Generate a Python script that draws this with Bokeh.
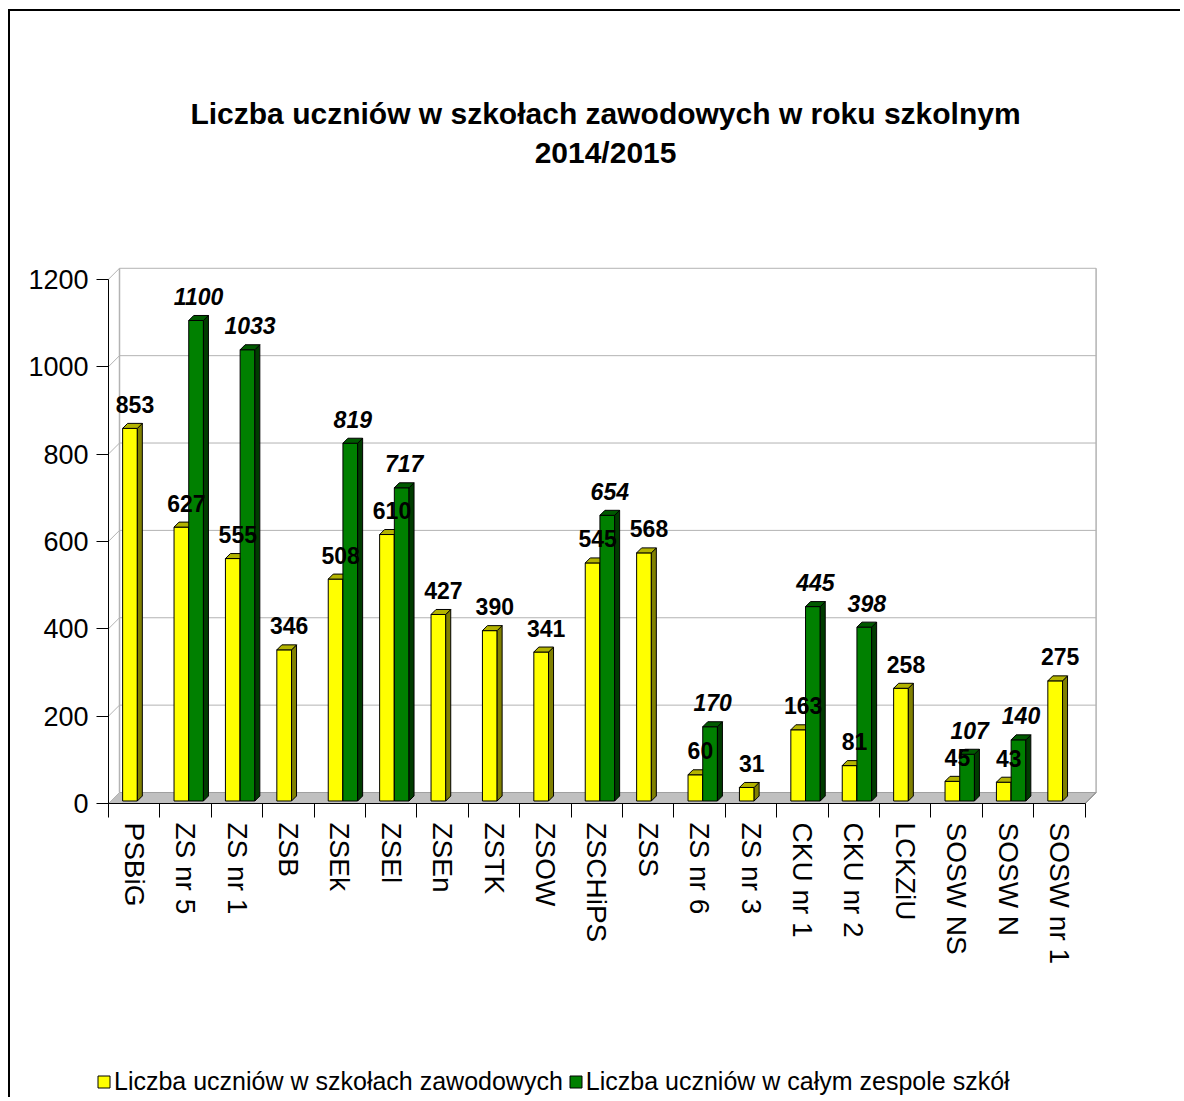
import numpy as np
from bokeh.plotting import figure
from bokeh.models import Range1d, FixedTicker, Legend, LegendItem, ColumnDataSource
from bokeh.core.properties import value
from bokeh.embed import file_html
from bokeh.resources import INLINE

# ---------------- data ----------------
categories = ["PSBiG", "ZS nr 5", "ZS nr 1", "ZSB", "ZSEk", "ZSEl", "ZSEn", "ZSTK", "ZSOW",
              "ZSCHiPS", "ZSS", "ZS nr 6", "ZS nr 3", "CKU nr 1", "CKU nr 2", "LCKZiU",
              "SOSW NS", "SOSW N", "SOSW nr 1"]
vocational = [853, 627, 555, 346, 508, 610, 427, 390, 341, 545, 568, 60, 31, 163, 81, 258, 45, 43, 275]
whole_complex = [None, 1100, 1033, None, 819, 717, None, None, None, 654, None, 170, None, 445, 398,
                 None, 107, 140, None]
y_ticks = [0, 200, 400, 600, 800, 1000, 1200]
series_names = ["Liczba uczniów w szkołach zawodowych", "Liczba uczniów w całym zespole szkół"]
title_lines = ["Liczba uczniów w szkołach zawodowych w roku szkolnym", "2014/2015"]

# ---------------- layout / geometry ----------------
W, H = 1172, 1088                 # canvas size
ORIGIN_X, ORIGIN_Y = 98, 296      # pixel position of the axes origin (from left / from bottom)
PX_PER_CAT = 51.40
PX_PER_VAL = 536 / 1227.0
N = len(categories)
X0 = -ORIGIN_X / PX_PER_CAT
X1 = X0 + W / PX_PER_CAT
Y0 = -ORIGIN_Y / PX_PER_VAL
Y1 = Y0 + H / PX_PER_VAL

WALL_DX = 11 / PX_PER_CAT
WALL_DY = 11 / PX_PER_VAL
BAR_DX = 5 / PX_PER_CAT
BAR_DY = 5 / PX_PER_VAL
SHIFT_Y = 2.5 / PX_PER_VAL
BAR_W = 0.286
Y_LEFT = 0.275
G_LEFT = Y_LEFT + BAR_W
TITLE_PX = [690, 651]             # title baselines, pixels above the floor line
TITLE_X = 9.67

FONT = "Liberation Sans"

p = figure(width=W, height=H, output_backend="svg", toolbar_location=None,
           x_range=Range1d(X0, X1), y_range=Range1d(Y0, Y1),
           min_border_left=0, min_border_right=0, min_border_top=0, min_border_bottom=0,
           background_fill_color="white", border_fill_color="white")
p.outline_line_color = None
p.xgrid.visible = False
p.ygrid.visible = False
p.margin = (9, 0, 0, 8)
p.styles = {"border-top": "2px solid black", "border-left": "2px solid black"}

# title (two centred lines)
p.text(x=[TITLE_X, TITLE_X], y=[px / PX_PER_VAL for px in TITLE_PX], text=title_lines,
       text_align="center", text_baseline="alphabetic", text_font=value(FONT),
       text_font_size="30px", text_font_style="bold", text_color="black")

# ---------------- walls ----------------
wall_col = "#b3b3b3"
top_val = y_ticks[-1]
p.patch(x=[0, N, N + WALL_DX, WALL_DX], y=[0, 0, WALL_DY, WALL_DY],
        fill_color="#c0c0c0", line_color="#a0a0a0", line_width=1)
gy = [v + WALL_DY for v in y_ticks[1:]]
p.segment(x0=[WALL_DX] * len(gy), y0=gy, x1=[N + WALL_DX] * len(gy), y1=gy,
          line_color=wall_col, line_width=1)
p.segment(x0=[0] * len(y_ticks), y0=y_ticks, x1=[WALL_DX] * len(y_ticks),
          y1=[v + WALL_DY for v in y_ticks], line_color=wall_col, line_width=1)
p.segment(x0=[WALL_DX, N + WALL_DX], y0=[WALL_DY, WALL_DY], x1=[WALL_DX, N + WALL_DX],
          y1=[top_val + WALL_DY, top_val + WALL_DY], line_color=wall_col, line_width=1.5)
p.segment(x0=[N], y0=[0], x1=[N + WALL_DX], y1=[WALL_DY], line_color="#808080", line_width=1)


def draw_bars(vals, left_off, front, side, top):
    idx = [i for i, v in enumerate(vals) if v is not None]
    xl = np.array([i + left_off for i in idx])
    xr = xl + BAR_W
    t = np.array([vals[i] for i in idx], dtype=float) + SHIFT_Y
    b = np.full_like(t, SHIFT_Y)
    src = ColumnDataSource(dict(left=xl, right=xr, bottom=b, top=t))
    r = p.quad(left="left", right="right", bottom="bottom", top="top", source=src,
               fill_color=front, line_color="black", line_width=1)
    side_xs = [[a, a + BAR_DX, a + BAR_DX, a] for a in xr]
    side_ys = [[bb, bb + BAR_DY, tt + BAR_DY, tt] for bb, tt in zip(b, t)]
    p.patches(xs=side_xs, ys=side_ys, fill_color=side, line_color="black", line_width=1)
    top_xs = [[a, a + BAR_DX, c + BAR_DX, c] for a, c in zip(xl, xr)]
    top_ys = [[tt, tt + BAR_DY, tt + BAR_DY, tt] for tt in t]
    p.patches(xs=top_xs, ys=top_ys, fill_color=top, line_color="black", line_width=1)
    return r, idx, xl, t


r_y, idx_y, xl_y, t_y = draw_bars(vocational, Y_LEFT, "#ffff00", "#808000", "#b3b300")
r_g, idx_g, xl_g, t_g = draw_bars(whole_complex, G_LEFT, "#008000", "#003c00", "#005a00")

# value labels
p.text(x=list(xl_y + BAR_W / 2 + BAR_DX), y=list(t_y + BAR_DY),
       text=[str(vocational[i]) for i in idx_y], text_align="center", text_baseline="alphabetic",
       y_offset=-19, text_font=value(FONT), text_font_size="23px", text_font_style="bold",
       text_color="black")
p.text(x=list(xl_g + BAR_W / 2 + BAR_DX / 2), y=list(t_g + BAR_DY),
       text=[str(whole_complex[i]) for i in idx_g], text_align="center", text_baseline="alphabetic",
       y_offset=-19, text_font=value(FONT), text_font_size="23px", text_font_style="bold italic",
       text_color="black")

# ---------------- axes ----------------
ya = p.yaxis[0]
ya.fixed_location = 0
ya.ticker = FixedTicker(ticks=y_ticks, minor_ticks=[])
ya.bounds = (0, top_val)
ya.major_tick_out = 12
ya.major_tick_in = 0
ya.minor_tick_out = 0
ya.minor_tick_in = 0
ya.major_label_standoff = 8
ya.major_label_text_font = FONT
ya.major_label_text_font_size = "27px"
ya.major_label_text_color = "black"
ya.axis_line_color = "black"
ya.major_tick_line_color = "black"

xa = p.xaxis[0]
xa.fixed_location = 0
centers = [i + 0.5 for i in range(N)]
xa.ticker = FixedTicker(ticks=centers, minor_ticks=list(range(N + 1)))
xa.major_label_overrides = {c: name for c, name in zip(centers, categories)}
xa.bounds = (0, N)
xa.major_tick_out = 0
xa.major_tick_in = 0
xa.minor_tick_out = 14
xa.minor_tick_in = 0
xa.minor_tick_line_color = "black"
xa.major_label_orientation = "vertical"
xa.major_label_standoff = 5
xa.major_label_text_font = FONT
xa.major_label_text_font_size = "28px"
xa.major_label_text_color = "black"
xa.axis_line_color = "black"

# ---------------- legend ----------------
legend = Legend(items=[LegendItem(label=series_names[0], renderers=[r_y]),
                       LegendItem(label=series_names[1], renderers=[r_g])],
                location=(ORIGIN_X - 12, 3), orientation="horizontal", padding=0, margin=0,
                spacing=5, label_standoff=3, glyph_width=15, glyph_height=15,
                border_line_color=None, background_fill_alpha=0,
                label_text_font=FONT, label_text_font_size="25px", label_text_color="black")
p.add_layout(legend)

open("out.html", "w").write(file_html(p, INLINE))
